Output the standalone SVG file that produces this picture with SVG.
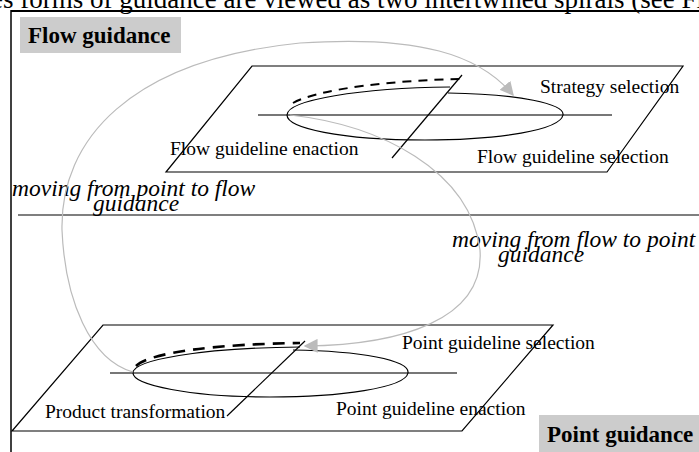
<svg xmlns="http://www.w3.org/2000/svg" width="699" height="452" viewBox="0 0 699 452">
<defs>
<style>
.lbl{font-family:"Liberation Serif","Times New Roman",serif;font-size:19.5px;fill:#000}
.it{font-family:"Liberation Serif","Times New Roman",serif;font-size:23.5px;font-style:italic;fill:#000}
.hd{font-family:"Liberation Serif","Times New Roman",serif;font-size:23px;font-weight:bold;fill:#000}
.plane{fill:none;stroke:#000;stroke-width:1.2}
.axis{stroke:#777;stroke-width:2}
.thin{fill:none;stroke:#000;stroke-width:1.2}
.dash{fill:none;stroke:#000;stroke-width:2;stroke-dasharray:9 7}
.dash2{fill:none;stroke:#000;stroke-width:2.6;stroke-dasharray:12 8}
.gray{fill:none;stroke:#bbb;stroke-width:1.2}
</style>
<marker id="ah" viewBox="0 0 10 10" refX="9" refY="5" markerWidth="14" markerHeight="14" markerUnits="userSpaceOnUse" orient="auto">
<path d="M0,0 L10,5 L0,10 z" fill="#bbb"/>
</marker>
</defs>
<rect width="699" height="452" fill="#fff"/>
<text x="-9" y="8" style="font-family:'Liberation Serif',serif;font-size:27px">es forms of guidance are viewed as two intertwined spirals (see Fig</text>
<line x1="11" y1="11" x2="699" y2="11" stroke="#000" stroke-width="2"/>
<line x1="11" y1="10" x2="11" y2="452" stroke="#000" stroke-width="1.5"/>

<g id="flow-guidance">
<rect x="20" y="17" width="161" height="36" fill="#ccc"/>
<text class="hd" x="28" y="43">Flow guidance</text>
</g>

<g id="flow-plane">
<path class="plane" d="M252,66 L683,66 L607,172 L166,172 Z"/>
<line class="axis" x1="258" y1="115" x2="612" y2="115"/>
<path class="thin" d="M448,93 C520,94 565,104 563,115 C560,130 500,140 425,140 C340,140 287,128 287,115 C287,100 360,88 450,87"/>
<path class="dash" d="M293,103 C320,88 400,80 460,79"/>
<line class="thin" x1="462" y1="75" x2="392" y2="158"/>
<text class="lbl" x="540" y="93">Strategy selection</text>
<text class="lbl" x="170" y="155">Flow guideline enaction</text>
<text class="lbl" x="477" y="163">Flow guideline selection</text>
</g>

<g id="divider">
<line x1="18" y1="215" x2="699" y2="215" stroke="#000" stroke-width="1.2"/>
<text class="it" x="12" y="196">moving from point to flow</text>
<text class="it" x="93" y="211">guidance</text>
<text class="it" x="452" y="247">moving from flow to point</text>
<text class="it" x="498" y="262">guidance</text>
</g>

<g id="point-plane">
<path class="plane" d="M103,325 L553,325 L462,431 L12,431 Z"/>
<line class="axis" x1="110" y1="373" x2="457" y2="373"/>
<path class="thin" d="M293,350 C360,351 410,360 408,373 C405,388 340,397 270,397 C190,397 133,385 133,373 C133,360 200,348 300,347"/>
<path class="dash2" d="M136,366 C150,352 220,344 300,343"/>
<line class="thin" x1="305" y1="341" x2="227" y2="416"/>
<text class="lbl" x="402" y="349">Point guideline selection</text>
<text class="lbl" x="45" y="418">Product transformation</text>
<text class="lbl" x="336" y="415">Point guideline enaction</text>
</g>

<g id="point-guidance">
<rect x="539" y="415" width="160" height="37" fill="#ccc"/>
<text class="hd" x="547" y="442">Point guidance</text>
</g>

<g id="connectors">
<path class="gray" marker-end="url(#ah)" d="M133,372 C90,360 65,300 62,230 C60,140 130,60 300,43 C420,35 480,55 513,95"/>
<path class="gray" marker-end="url(#ah)" d="M290,115 C380,125 470,170 480,250 C485,320 400,345 305,346"/>
</g>
</svg>
